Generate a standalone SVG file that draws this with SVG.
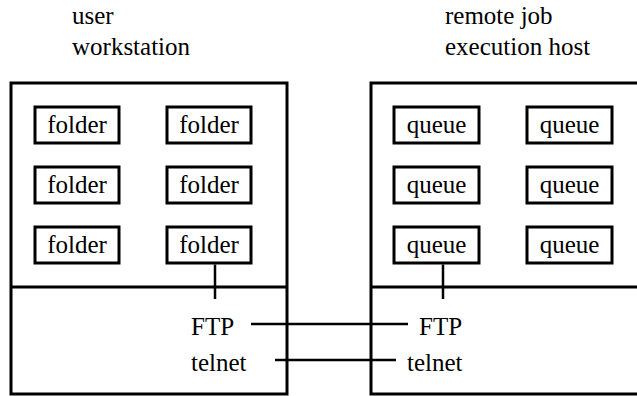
<svg xmlns="http://www.w3.org/2000/svg" width="637" height="396" viewBox="0 0 637 396">
<style>
text{font-family:'Times New Roman','Liberation Serif',Times,'DejaVu Serif',serif;font-size:25px;fill:#000}
.c{text-anchor:middle}
.outer{fill:none;stroke:#000;stroke-width:3}
.box{fill:#fff;stroke:#000;stroke-width:3}
.ln{stroke:#000;stroke-width:2.5;fill:none}
</style>
<rect width="637" height="396" fill="#fff"/>
<g id="workstation">
<text x="72" y="24">user</text>
<text x="72" y="55">workstation</text>
<rect class="outer" x="11" y="83" width="276" height="311"/>
<line class="outer" x1="11" y1="287" x2="287" y2="287"/>
<text x="191" y="335">FTP</text>
<text x="191" y="371">telnet</text>
</g>
<g id="host">
<text x="445" y="24">remote job</text>
<text x="445" y="55">execution host</text>
<rect class="outer" x="371" y="83" width="280" height="311"/>
<line class="outer" x1="371" y1="287" x2="640" y2="287"/>
<text x="419" y="335">FTP</text>
<text x="407" y="371">telnet</text>
</g>
<g id="folder1"><rect class="box" x="35" y="107" width="84" height="36"/><text class="c" x="77" y="133">folder</text></g>
<g id="folder2"><rect class="box" x="167" y="107" width="84" height="36"/><text class="c" x="209" y="133">folder</text></g>
<g id="folder3"><rect class="box" x="35" y="167" width="84" height="36"/><text class="c" x="77" y="193">folder</text></g>
<g id="folder4"><rect class="box" x="167" y="167" width="84" height="36"/><text class="c" x="209" y="193">folder</text></g>
<g id="folder5"><rect class="box" x="35" y="227" width="84" height="36"/><text class="c" x="77" y="253">folder</text></g>
<g id="folder6"><rect class="box" x="167" y="227" width="84" height="36"/><text class="c" x="209" y="253">folder</text></g>
<g id="queue1"><rect class="box" x="394" y="107" width="85" height="36"/><text class="c" x="436.5" y="133">queue</text></g>
<g id="queue2"><rect class="box" x="527" y="107" width="85" height="36"/><text class="c" x="569.5" y="133">queue</text></g>
<g id="queue3"><rect class="box" x="394" y="167" width="85" height="36"/><text class="c" x="436.5" y="193">queue</text></g>
<g id="queue4"><rect class="box" x="527" y="167" width="85" height="36"/><text class="c" x="569.5" y="193">queue</text></g>
<g id="queue5"><rect class="box" x="394" y="227" width="85" height="36"/><text class="c" x="436.5" y="253">queue</text></g>
<g id="queue6"><rect class="box" x="527" y="227" width="85" height="36"/><text class="c" x="569.5" y="253">queue</text></g>
<g id="connectors">
<line class="ln" x1="215" y1="264.5" x2="215" y2="299"/>
<line class="ln" x1="443" y1="264.5" x2="443" y2="299"/>
<line class="ln" x1="251" y1="324" x2="408" y2="324"/>
<line class="ln" x1="275" y1="360" x2="396" y2="360"/>
</g>
</svg>
